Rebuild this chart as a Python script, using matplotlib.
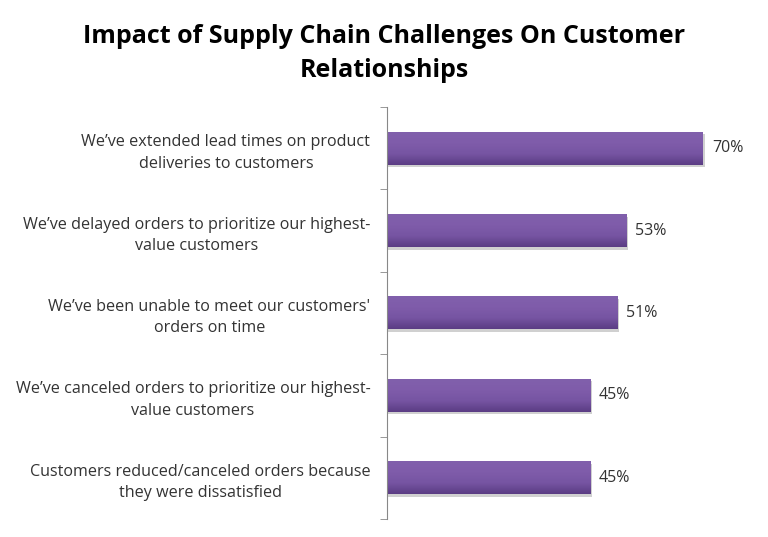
import numpy as np
import matplotlib.pyplot as plt
from matplotlib.colors import LinearSegmentedColormap

categories = [
    "We\u2019ve extended lead times on product\ndeliveries to customers",
    "We\u2019ve delayed orders to prioritize our highest-\nvalue customers",
    "We\u2019ve been unable to meet our customers'\norders on time",
    "We\u2019ve canceled orders to prioritize our highest-\nvalue customers",
    "Customers reduced/canceled orders because\nthey were dissatisfied",
]
values = [70, 53, 51, 45, 45]
labels = ["70%", "53%", "51%", "45%", "45%"]

plt.rcParams["font.family"] = ["Open Sans", "DejaVu Sans"]

fig = plt.figure(figsize=(7.68, 5.37), dpi=100)
ax = fig.add_axes([387 / 768, 18 / 537, 361 / 768, 412 / 537])

y = np.arange(len(values))
bar_h = 0.4
cmap = LinearSegmentedColormap.from_list("purp", ["#5b3d84", "#7654a2", "#7f5caa", "#8160ac"])
grad = np.linspace(0, 1, 64).reshape(-1, 1)

for yi, v, lab in zip(y, values, labels):
    # soft shadow
    ax.barh(yi + 0.03, v + 0.4, height=bar_h, left=0, color="#d0d0d0", zorder=1)
    ax.imshow(grad, aspect="auto", cmap=cmap, origin="lower",
              extent=(0, v, yi + bar_h / 2, yi - bar_h / 2), zorder=2)
    ax.text(v + 2, yi, lab, va="center", ha="left", fontsize=11.5, color="#333333")

ax.set_ylim(len(values) - 0.5, -0.5)
ax.set_xlim(0, 80)
ax.set_yticks(y)
ax.set_yticklabels(categories, fontsize=11.6, color="#333333",
                   multialignment="center", linespacing=1.45)
ax.set_yticks(np.arange(len(values) + 1) - 0.5, minor=True)
ax.tick_params(axis="y", which="major", length=0, pad=12)
ax.tick_params(axis="y", which="minor", length=5, color="#888888", direction="out")
ax.set_xticks([])
for s in ["top", "right", "bottom"]:
    ax.spines[s].set_visible(False)
ax.spines["left"].set_color("#888888")

fig.text(0.5, 0.9, "Impact of Supply Chain Challenges On Customer\nRelationships",
         ha="center", va="center", fontsize=18, fontweight="bold", linespacing=1.45)

fig.savefig("out.png", dpi=100)
